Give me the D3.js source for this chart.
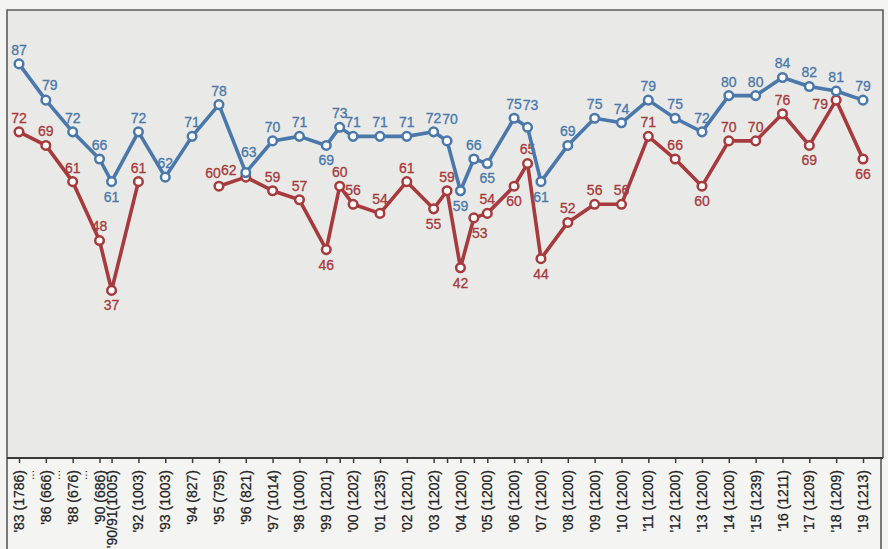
<!DOCTYPE html>
<meta charset="utf-8">
<script src="https://d3js.org/d3.v7.min.js"></script>
<style>
  body { margin: 0; background: #f4f4f2; }
</style>
<div id="chart"></div>
<script>
// survey labels (year + sample size), "" = extra survey in the same year
var labels = ["'83 (1786)", "'86 (666)", "'88 (676)", "'90 (686)", "'90/91(1005)", "'92 (1003)",
  "'93 (1003)", "'94 (827)", "'95 (795)", "'96 (821)", "'97 (1014)", "'98 (1000)",
  "'99 (1201)", "", "'00 (1202)", "'01 (1235)", "'02 (1201)", "'03 (1202)", "",
  "'04 (1200)", "", "'05 (1200)", "'06 (1200)", "", "'07 (1200)", "'08 (1200)",
  "'09 (1200)", "'10 (1200)", "'11 (1200)", "'12 (1200)", "'13 (1200)", "'14 (1200)",
  "'15 (1239)", "'16 (1211)", "'17 (1209)", "'18 (1209)", "'19 (1213)"];

// axis slot of each survey (extra surveys sit half way)
var slots = [0, 1, 2, 3, 3.45, 4.45, 5.45, 6.45, 7.45, 8.45, 9.45, 10.45,
  11.45, 11.95, 12.45, 13.45, 14.45, 15.45, 15.95, 16.45, 16.95, 17.45, 18.45, 18.95,
  19.45, 20.45, 21.45, 22.45, 23.45, 24.45, 25.45, 26.45, 27.45, 28.45, 29.45, 30.45, 31.45];

var blueValues = [87, 79, 72, 66, 61, 72, 62, 71, 78, 63, 70, 71, 69, 73, 71, 71, 71, 72, 70,
  59, 66, 65, 75, 73, 61, 69, 75, 74, 79, 75, 72, 80, 80, 84, 82, 81, 79];

var redValues = [72, 69, 61, 48, 37, 61, null, null, 60, 62, 59, 57, 46, 60, 56, 54, 61, 55, 59,
  42, 53, 54, 60, 65, 44, 52, 56, 56, 71, 66, 60, 70, 70, 76, 69, 79, 66];

// gaps in the early series, marked with dots on the axis
var gapSlots = [0.5, 1.5, 2.5];

// label placement
var blueBelow = [4, 12, 19, 21, 24];
var redBelow = [4, 12, 17, 19, 20, 22, 24, 30, 34, 36];
var blueShift = {1: [4, -15], 9: [3, -21], 18: [3, -22], 23: [3, -22]};
var redShift = {8: [-6, -13], 9: [-17, -7], 20: [6, 15], 35: [-16, 4]};

var W = 888, H = 549;
var blue = "#4a78aa", red = "#a63a3c";

var svg = d3.select("#chart").append("svg")
  .attr("width", W).attr("height", H);

var x = d3.scaleLinear().domain([0, 31.45]).range([19, 863]);
var y = d3.scaleLinear().domain([0, 100]).range([458, 5]);

// plot panel
svg.append("rect")
  .attr("x", 7).attr("y", 10).attr("width", 876).attr("height", 448)
  .attr("fill", "#e9e9e7");

// frame
svg.append("path")
  .attr("d", "M7,549 V10 H883 V458 M881,458 V549")
  .attr("fill", "none").attr("stroke", "#5a5a5a").attr("stroke-width", 1.6);

// x axis
var xAxis = d3.axisBottom(x)
  .tickValues(slots)
  .tickSize(5)
  .tickFormat("");
var gx = svg.append("g")
  .attr("transform", "translate(0," + y(0) + ")")
  .call(xAxis);
gx.select(".domain").attr("d", "M7,0H883").attr("stroke", "#3a3a3a").attr("stroke-width", 2);
gx.selectAll(".tick line").attr("stroke", "#3a3a3a").attr("stroke-width", 1.5);

svg.append("g").selectAll("text")
  .data(labels.map(function(l, i) { return {l: l, s: slots[i]}; }).filter(function(d) { return d.l !== ""; }))
  .enter().append("text")
  .attr("transform", function(d) { return "translate(" + x(d.s) + ",470) rotate(-90)"; })
  .attr("text-anchor", "end")
  .attr("dy", "0.36em")
  .attr("font-family", "Liberation Sans, Arial, sans-serif")
  .attr("font-size", 14)
  .attr("fill", "#222")
  .attr("stroke", "#222")
  .attr("stroke-width", 0.25)
  .text(function(d) { return d.l; });

svg.append("g").selectAll("text")
  .data(gapSlots)
  .enter().append("text")
  .attr("transform", function(d) { return "translate(" + x(d) + ",470) rotate(-90)"; })
  .attr("text-anchor", "end")
  .attr("dy", "0.1em")
  .attr("font-family", "Liberation Sans, Arial, sans-serif")
  .attr("font-size", 12)
  .attr("fill", "#333")
  .text("...");

function drawSeries(values, color, below, shift) {
  var pts = values.map(function(v, i) { return {v: v, s: slots[i], i: i}; });
  var line = d3.line()
    .defined(function(d) { return d.v !== null; })
    .x(function(d) { return x(d.s); })
    .y(function(d) { return y(d.v); });
  svg.append("path")
    .datum(pts)
    .attr("d", line)
    .attr("fill", "none")
    .attr("stroke", color)
    .attr("stroke-width", 3.6)
    .attr("stroke-linejoin", "round");

  var valid = pts.filter(function(d) { return d.v !== null; });
  svg.append("g").selectAll("circle")
    .data(valid)
    .enter().append("circle")
    .attr("cx", function(d) { return x(d.s); })
    .attr("cy", function(d) { return y(d.v); })
    .attr("r", 4.3)
    .attr("fill", "#fff")
    .attr("stroke", color)
    .attr("stroke-width", 2.5);

  svg.append("g").selectAll("text")
    .data(valid)
    .enter().append("text")
    .attr("x", function(d) { return x(d.s) + (shift[d.i] ? shift[d.i][0] : 0); })
    .attr("y", function(d) {
      var off = shift[d.i] ? shift[d.i][1] : (below.indexOf(d.i) >= 0 ? 15 : -14);
      return y(d.v) + off;
    })
    .attr("dy", "0.35em")
    .attr("text-anchor", "middle")
    .attr("font-family", "Liberation Sans, Arial, sans-serif")
    .attr("font-size", 14)
    .attr("fill", color)
    .attr("stroke", color)
    .attr("stroke-width", 0.3)
    .text(function(d) { return d.v; });
}

drawSeries(redValues, red, redBelow, redShift);
drawSeries(blueValues, blue, blueBelow, blueShift);
</script>
